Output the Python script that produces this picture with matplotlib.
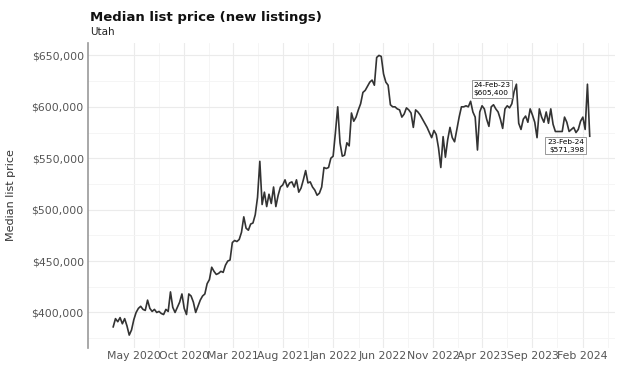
import numpy as np
import pandas as pd
import matplotlib
matplotlib.use("Agg")
import matplotlib.pyplot as plt
import matplotlib.dates as mdates
from matplotlib.ticker import FuncFormatter, MultipleLocator

# weekly median list price, Utah (values in $)
start_date = "2020-02-28"
price_k = [
    386, 394, 391, 395, 389, 394, 387, 378, 383, 393,
    400, 404, 406, 403, 402, 412, 404, 401, 403, 400,
    401, 399, 398, 403, 401, 420, 405, 400, 405, 410,
    418, 404, 398, 418, 416, 410, 400, 406, 412, 416,
    418, 428, 432, 444, 440, 437, 438, 440, 439, 446,
    450, 451, 468, 470, 469, 471, 478, 493, 482, 480,
    486, 487, 495, 512, 547, 505, 517, 503, 515, 506,
    522, 503, 514, 522, 524, 529, 522, 526, 527, 522,
    529, 517, 521, 529, 538, 526, 527, 522, 519, 514,
    516, 522, 541, 540, 541, 550, 552, 575, 600, 565,
    552, 553, 565, 562, 594, 586, 590, 597, 603, 614,
    616, 620, 624, 626, 621, 648, 650, 649, 632, 624,
    621, 602, 600, 600, 598, 597, 590, 593, 599, 597,
    594, 580, 597, 595, 592, 588, 584, 580, 575, 570,
    577, 573, 560, 541, 571, 551, 568, 580, 570, 566,
    578, 590, 600, 600, 601, 600, 605.4, 595, 590, 558,
    595, 601, 598, 588, 581, 600, 602, 598, 595, 588,
    579, 598, 601, 599, 603, 615, 622, 584, 578, 588,
    591, 585, 598, 592, 585, 570, 598, 590, 585, 595,
    584, 598, 583, 576, 576, 576, 576, 590, 585, 576,
    578, 580, 575, 578, 586, 590, 578, 622, 571.398,
]
prices = np.array(price_k) * 1000
dates = pd.date_range(start_date, periods=len(prices), freq="7D")

tick_dates = pd.date_range("2020-05-01", "2024-02-01", freq="5MS")
y_ticks = [400000, 450000, 500000, 550000, 600000, 650000]

fig = plt.figure(figsize=(6.21, 3.65), dpi=100)
ax = fig.add_axes([0.1417, 0.047, 0.848, 0.835])

ax.plot(dates, prices, color="#333333", linewidth=1.2, zorder=3)

ax.set_xlim(pd.Timestamp("2019-12-13"), pd.Timestamp("2024-05-09"))
ax.set_ylim(365600, 662000)

ax.set_xticks(tick_dates)
ax.xaxis.set_major_formatter(mdates.DateFormatter("%b %Y"))
ax.set_yticks(y_ticks)
ax.yaxis.set_major_formatter(FuncFormatter(lambda v, p: f"${v:,.0f}"))
ax.yaxis.set_minor_locator(MultipleLocator(25000))
ax.set_xticks([t + (tick_dates[1] - tick_dates[0]) / 2 for t in tick_dates], minor=True)

ax.tick_params(axis="both", which="both", length=0, labelsize=7.8, labelcolor="#555555")
ax.tick_params(axis="y", pad=3)
ax.tick_params(axis="x", pad=2)
ax.grid(True, which="major", color="#ebebeb", linewidth=0.8)
ax.grid(True, which="minor", color="#f4f4f4", linewidth=0.6)
ax.set_axisbelow(True)
for s in ["top", "right", "bottom"]:
    ax.spines[s].set_visible(False)
ax.spines["left"].set_color("#999999")
ax.spines["left"].set_linewidth(1.2)

ax.set_ylabel("Median list price", fontsize=8, color="#333333", labelpad=11)

# annotations: same week last year and latest week
box = dict(boxstyle="square,pad=0.25", fc="white", ec="#888888", lw=0.6)
d0, v0 = dates[-53], prices[-53]
ax.annotate(f"{d0:%d-%b-%y}\n${v0:,.0f}", xy=(d0, v0), xytext=(2, 4),
            textcoords="offset points", fontsize=5.3, ha="left", va="bottom",
            bbox=box, zorder=4, linespacing=1.3)
d1, v1 = dates[-1], prices[-1]
ax.annotate(f"{d1:%d-%b-%y}\n${v1:,.0f}", xy=(d1, v1), xytext=(-4, -2),
            textcoords="offset points", fontsize=5.3, ha="right", va="top",
            bbox=box, zorder=4, linespacing=1.3)

fig.text(0.145, 0.953, "Median list price (new listings)", fontsize=9.5,
         fontweight="bold", ha="left", va="center", color="#111111")
fig.text(0.145, 0.913, "Utah", fontsize=7.5, ha="left", va="center", color="#222222")

fig.savefig("out.png", dpi=100)
